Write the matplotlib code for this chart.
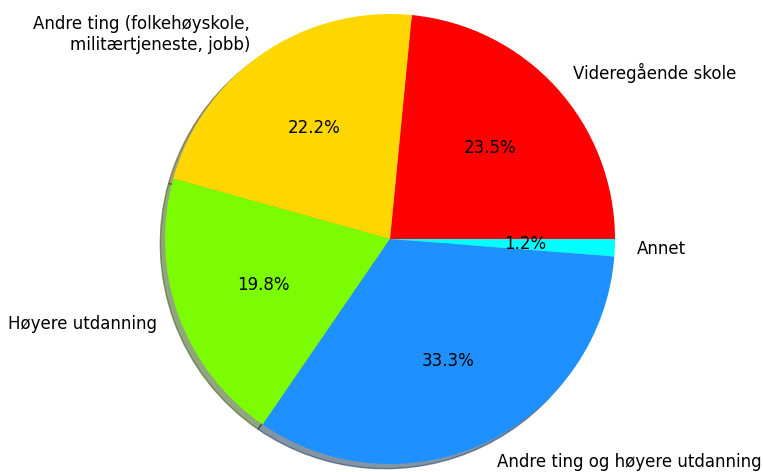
import matplotlib.pyplot as plt

labels = ['Videregående skole', 'Andre ting (folkehøyskole,\nmilitærtjeneste, jobb)',
          'Høyere utdanning', 'Andre ting og høyere utdanning', 'Annet']
counts = [19, 18, 16, 27, 1]
colors = ['red', 'gold', 'lawngreen', 'dodgerblue', 'cyan']

fig = plt.figure(figsize=(7.63, 4.72), dpi=100)
ax = fig.add_axes([0, 0, 1, 1])
ax.pie(counts, labels=labels, colors=colors, autopct='%1.1f%%',
       shadow={'ox': -0.015, 'oy': -0.015},
       textprops={'fontsize': 12})
cx, cy, r = 390, 233, 225
ax.set_xlim(-cx / r, (763 - cx) / r)
ax.set_ylim(-cy / r, (472 - cy) / r)
ax.set_aspect('auto')

plt.savefig('out.png')
